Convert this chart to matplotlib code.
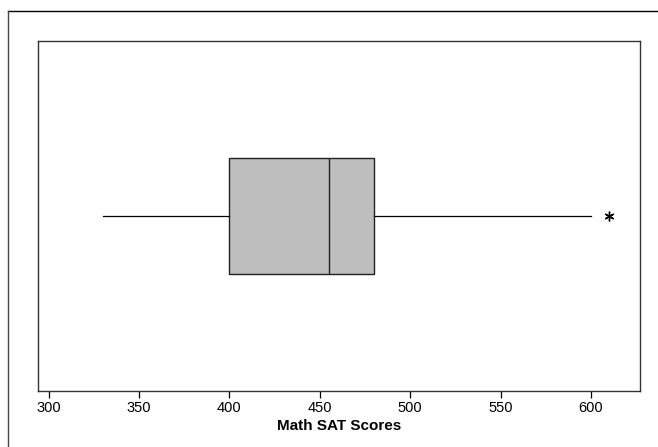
import matplotlib
matplotlib.use("Agg")
import matplotlib.pyplot as plt
from matplotlib.lines import Line2D

# Data
whisker_low = 330
q1 = 400
median = 455
q3 = 480
whisker_high = 600
outliers = [610]
xticks = [300, 350, 400, 450, 500, 550, 600]
xlabel = "Math SAT Scores"

plt.rcParams['font.family'] = ['Liberation Sans', 'DejaVu Sans']

fig = plt.figure(figsize=(6.58, 4.47), dpi=100)
ax = fig.add_axes([37.7/658, 1-390.7/447, (640-37.7)/658, (390.7-41.3)/447])

stats = [dict(med=median, q1=q1, q3=q3, whislo=whisker_low, whishi=whisker_high,
              fliers=outliers, label="")]
ax.bxp(stats, positions=[1], widths=0.334, vert=False, patch_artist=True,
       showcaps=False,
       boxprops=dict(facecolor="#bebebe", edgecolor="#222222", linewidth=1.0),
       medianprops=dict(color="#222222", linewidth=1.0),
       whiskerprops=dict(color="black", linewidth=0.9),
       flierprops=dict(marker=(6, 2, 0), markersize=7, markeredgecolor="black",
                       markeredgewidth=1.0, linestyle="none"))

ax.set_xlim(294.0, 627.1)
ax.set_ylim(0.5, 1.5)
ax.set_yticks([])
ax.set_xticks(xticks)
ax.set_xticklabels([str(t) for t in xticks], fontsize=10.5)
ax.tick_params(axis="x", direction="out", length=5, width=0.9, pad=2.5)
ax.set_xlabel(xlabel, fontsize=11, fontweight="bold", labelpad=3)
for s in ax.spines.values():
    s.set_linewidth(1.0)
    s.set_color("#333333")

# outer border (top and left visible)
fig.add_artist(Line2D([7.5/658, 1.0], [1-10.5/447, 1-10.5/447], transform=fig.transFigure,
                      color="black", linewidth=1.0))
fig.add_artist(Line2D([7.5/658, 7.5/658], [0.0, 1-10.5/447], transform=fig.transFigure,
                      color="#444444", linewidth=1.0))

fig.savefig("out.png", dpi=100)
